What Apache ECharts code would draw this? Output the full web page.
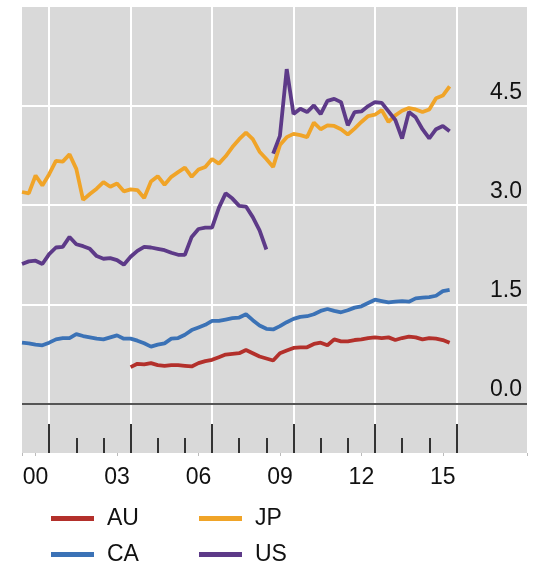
<!DOCTYPE html>
<html>
<head>
<meta charset="utf-8">
<script src="https://cdn.jsdelivr.net/npm/echarts@6/dist/echarts.min.js"></script>
<style>
  html, body { margin: 0; padding: 0; background: #fff; }
  #chart { width: 533px; height: 562px; }
</style>
</head>
<body>
<div id="chart"></div>
<script>
// quarterly readings, first value at the given start year
const auStart = 2004;
const auValues = [
  0.55, 0.60, 0.59, 0.61, 0.58, 0.57, 0.58, 0.58, 0.57, 0.56, 0.61, 0.64,
  0.66, 0.70, 0.74, 0.75, 0.76, 0.81, 0.76, 0.71, 0.68, 0.65, 0.76, 0.80,
  0.84, 0.85, 0.85, 0.90, 0.92, 0.88, 0.97, 0.94, 0.94, 0.96, 0.97, 0.99,
  1.00, 0.99, 1.00, 0.96, 0.99, 1.01, 1.00, 0.97, 0.99, 0.98, 0.96, 0.92
];
const caStart = 2000;
const caValues = [
  0.92, 0.91, 0.89, 0.88, 0.92, 0.97, 0.99, 0.99, 1.05, 1.02, 1.00, 0.98,
  0.97, 1.00, 1.03, 0.98, 0.98, 0.95, 0.91, 0.86, 0.89, 0.91, 0.98, 0.99,
  1.04, 1.11, 1.15, 1.19, 1.25, 1.25, 1.27, 1.29, 1.30, 1.35, 1.26, 1.18,
  1.13, 1.12, 1.17, 1.23, 1.28, 1.31, 1.32, 1.35, 1.40, 1.43, 1.40, 1.38,
  1.41, 1.45, 1.47, 1.52, 1.57, 1.55, 1.53, 1.54, 1.55, 1.54, 1.59, 1.60,
  1.61, 1.63, 1.70, 1.72
];
const jpStart = 2000;
const jpValues = [
  3.20, 3.18, 3.45, 3.30, 3.47, 3.67, 3.66, 3.77, 3.55, 3.08, 3.17, 3.25,
  3.35, 3.28, 3.33, 3.21, 3.24, 3.23, 3.11, 3.36, 3.44, 3.31, 3.43, 3.50,
  3.57, 3.43, 3.54, 3.58, 3.70, 3.63, 3.74, 3.88, 4.00, 4.10, 4.00, 3.81,
  3.70, 3.58, 3.91, 4.03, 4.08, 4.06, 4.03, 4.25, 4.15, 4.21, 4.20, 4.15,
  4.07, 4.16, 4.26, 4.35, 4.37, 4.44, 4.26, 4.36, 4.43, 4.47, 4.45, 4.41,
  4.45, 4.62, 4.66, 4.80
];
// US has a break in 2009
const usStartA = 2000;
const usValuesA = [
  2.11, 2.15, 2.16, 2.11, 2.26, 2.36, 2.37, 2.52, 2.41, 2.38, 2.34, 2.23,
  2.19, 2.20, 2.17, 2.10, 2.22, 2.31, 2.37, 2.36, 2.34, 2.32, 2.28, 2.25,
  2.25, 2.52, 2.64, 2.66, 2.66, 2.96, 3.18, 3.10, 2.99, 2.98, 2.82, 2.62,
  2.33
];
const usStartB = 2009.25;
const usValuesB = [
  3.78, 4.05, 5.06, 4.38, 4.46, 4.41, 4.51, 4.38, 4.58, 4.61, 4.56, 4.21,
  4.41, 4.42, 4.50, 4.56, 4.55, 4.42, 4.29, 4.01, 4.41, 4.33, 4.15, 4.01,
  4.15, 4.20, 4.12
];

const xLabels = ['00', '03', '06', '09', '12', '15'];
const majorYears = [2001, 2004, 2007, 2010, 2013, 2016];
const minorYears = [2002, 2003, 2005, 2006, 2008, 2009, 2011, 2012, 2014, 2015];
const yLabels = [0, 1.5, 3.0, 4.5];
const yGrid = [1.5, 3.0, 4.5];

const toPairs = (start, arr) => arr.map((v, i) => [start + i * 0.25, v]);

const font = "'Liberation Sans', Arial, sans-serif";
const textColor = '#111111';
const colors = { AU: '#b3302b', CA: '#3b72b6', JP: '#f0a428', US: '#5d3a88' };

const chart = echarts.init(document.getElementById('chart'));

const baseX = {
  type: 'value',
  min: 2000,
  max: 2018.6,
  position: 'bottom',
  axisLine: { show: false, onZero: false },
  axisLabel: { show: false },
  splitLine: { show: false }
};

function legendAt(name, left, top) {
  return {
    data: [name],
    left: left,
    top: top,
    padding: 0,
    icon: 'rect',
    itemWidth: 43,
    itemHeight: 5,
    selectedMode: false,
    textStyle: { fontFamily: font, fontSize: 23, color: textColor, padding: [0, 0, 0, 8] }
  };
}

const option = {
  animation: false,
  grid: {
    left: 22,
    right: 6,
    top: 7,
    bottom: 109,
    show: true,
    backgroundColor: '#d9d9d9',
    borderWidth: 0
  },
  legend: [
    legendAt('AU', 51, 507),
    legendAt('JP', 199, 507),
    legendAt('CA', 51, 543),
    legendAt('US', 199, 543)
  ],
  xAxis: [
    Object.assign({}, baseX, {
      axisTick: {
        show: true, inside: true, length: 29,
        customValues: majorYears,
        lineStyle: { color: '#333', width: 2 }
      },
      axisLabel: {
        show: true,
        customValues: xLabels.map(l => 2000 + Number(l) + 0.5),
        formatter: v => String(Math.floor(v)).slice(2),
        margin: 13,
        fontFamily: font,
        fontSize: 23,
        color: textColor
      },
      splitLine: { show: true, lineStyle: { color: '#ffffff', width: 2 } }
    }),
    Object.assign({}, baseX, {
      axisTick: {
        show: true, inside: true, length: 15,
        customValues: minorYears,
        lineStyle: { color: '#333', width: 2 }
      }
    }),
    Object.assign({}, baseX, {
      axisTick: {
        show: true, inside: false, length: 3,
        customValues: [2000, 2000.5, 2003.5, 2006.5, 2009.5, 2012.5, 2015.5, 2018.6],
        lineStyle: { color: '#bbbbbb', width: 1 }
      }
    })
  ],
  yAxis: {
    type: 'value',
    min: -0.75,
    max: 6,
    position: 'right',
    axisLine: { show: false },
    axisTick: { show: false, customValues: yGrid },
    splitLine: { show: true, lineStyle: { color: '#ffffff', width: 2 } },
    axisLabel: {
      inside: true,
      margin: 5,
      customValues: yLabels,
      formatter: v => v.toFixed(1),
      verticalAlign: 'bottom',
      padding: [0, 0, 2, 0],
      fontFamily: font,
      fontSize: 23,
      color: textColor
    }
  },
  series: [
    {
      name: 'AU', type: 'line', showSymbol: false,
      data: toPairs(auStart, auValues),
      color: colors.AU,
      lineStyle: { width: 3.8, color: colors.AU },
      markLine: {
        silent: true, symbol: 'none', label: { show: false },
        lineStyle: { color: '#555555', width: 2, type: 'solid' },
        data: [{ yAxis: 0 }]
      }
    },
    {
      name: 'CA', type: 'line', showSymbol: false,
      data: toPairs(caStart, caValues),
      color: colors.CA,
      lineStyle: { width: 3.8, color: colors.CA }
    },
    {
      name: 'JP', type: 'line', showSymbol: false,
      data: toPairs(jpStart, jpValues),
      color: colors.JP,
      lineStyle: { width: 3.8, color: colors.JP }
    },
    {
      name: 'US', type: 'line', showSymbol: false, connectNulls: false,
      data: toPairs(usStartA, usValuesA)
        .concat([[2009.125, null]])
        .concat(toPairs(usStartB, usValuesB)),
      color: colors.US,
      lineStyle: { width: 3.8, color: colors.US }
    }
  ]
};

chart.setOption(option);
</script>
</body>
</html>
